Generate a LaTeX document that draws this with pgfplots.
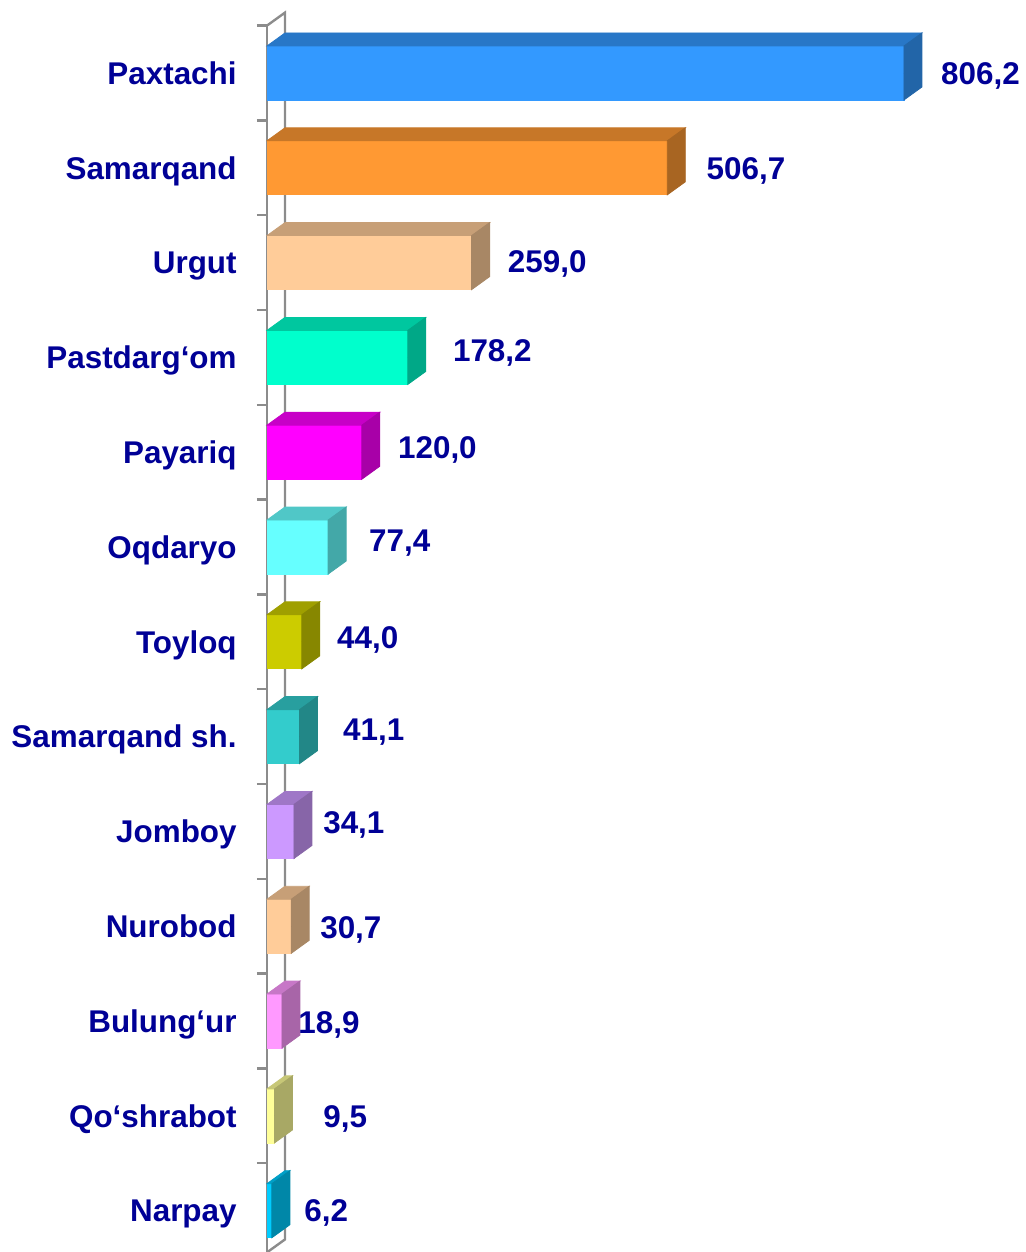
\documentclass[border=0pt]{standalone}
\usepackage{pgfplots}
\pgfplotsset{compat=1.18}
\usepackage{pgfplotstable}
\usepackage{fontspec}
\setmainfont{Liberation Sans}

\definecolor{navytxt}{RGB}{0,0,150}
\definecolor{wall}{RGB}{140,140,140}
\definecolor{c0}{HTML}{3399FF}
\definecolor{c1}{HTML}{FF9933}
\definecolor{c2}{HTML}{FFCC99}
\definecolor{c3}{HTML}{00FFCC}
\definecolor{c4}{HTML}{FF00FF}
\definecolor{c5}{HTML}{66FFFF}
\definecolor{c6}{HTML}{CCCC00}
\definecolor{c7}{HTML}{33CCCC}
\definecolor{c8}{HTML}{CC99FF}
\definecolor{c9}{HTML}{FFCC99}
\definecolor{c10}{HTML}{FF99FF}
\definecolor{c11}{HTML}{FFFF99}
\definecolor{c12}{HTML}{00CCFF}

% value, label position (x in data units, y in category units), label text
\pgfplotstableread{
idx v     lx    ly     lab
0   806.2 852.9 0.00   806,2
1   506.7 556.0 1.01   506,7
2   259.0 304.5 1.99   259,0
3   178.2 235.0 2.93   178,2
4   120.0 165.5 3.95   120,0
5   77.4  128.9 4.93   77,4
6   44.0  88.4  5.95   44,0
7   41.1  96.0  6.92   41,1
8   34.1  70.8  7.90   34,1
9   30.7  67.0  9.01   30,7
10  18.9  39.2  10.01  18,9
11  9.5   70.8  11.00  9,5
12  6.2   46.8  12.00  6,2
}\bars

\newcommand{\lblfont}{\fontsize{15.7}{18}\selectfont\bfseries}

\begin{document}
\begin{tikzpicture}
\begin{axis}[
    name=ax,
    scale only axis,
    width=379pt, height=613.4pt,
    xmin=0, xmax=959.5,
    ymin=-0.5, ymax=12.44,
    y dir=reverse,
    axis x line=none,
    axis y line*=left,
    axis line style={draw=wall, line width=1.2pt},
    ytick={0,...,12},
    yticklabels={Paxtachi, Samarqand, Urgut, Pastdarg‘om, Payariq, Oqdaryo,
        Toyloq, Samarqand sh., Jomboy, Nurobod, Bulung‘ur, Qo‘shrabot, Narpay},
    major tick length=0pt,
    minor ytick={-0.5,0.5,...,11.5},
    minor tick length=5pt,
    tick align=outside,
    ytick pos=left,
    tick style={draw=wall, line width=1.2pt},
    yticklabel style={font=\lblfont, text=navytxt, inner sep=0pt,
        anchor=base east, xshift=-15pt, yshift=-5.6pt},
    clip=false,
]
% back wall of the 3D frame
\draw[wall, line width=1.2pt] (axis description cs:0,1) -- ++(9pt,6.5pt)
    -- ([xshift=9pt,yshift=6.5pt]axis description cs:0,0) -- (axis description cs:0,0);

% 3D bars: front, top and side faces drawn at every data point
\addplot[scatter, only marks, mark=*, mark size=0pt,
    scatter/use mapped color={draw=none, fill=none},
    visualization depends on={rawx \as \rawv},
    visualization depends on={rawy \as \cidx},
    scatter/@pre marker code/.code={%
        \pgfmathtruncatemacro\ci{\cidx}%
        \fill[c\ci] (axis direction cs:-\rawv,-0.285) rectangle (axis direction cs:0,0.285);
        \fill[c\ci!78!black] (axis direction cs:-\rawv,-0.285) -- (axis direction cs:0,-0.285)
            -- ++(9pt,6.5pt) -- ++(axis direction cs:-\rawv,0) -- cycle;
        \fill[c\ci!66!black] (axis direction cs:0,-0.285) -- (axis direction cs:0,0.285)
            -- ++(9pt,6.5pt) -- ++(axis direction cs:0,-0.57) -- cycle;
    },
    scatter/@post marker code/.code={},
] table[x=v, y=idx] {\bars};

% value labels
\addplot[only marks, mark=none, point meta=explicit symbolic,
    nodes near coords,
    nodes near coords style={anchor=base west, inner sep=0pt, yshift=-5.6pt,
        font=\lblfont, text=navytxt},
] table[x=lx, y=ly, meta=lab] {\bars};
\end{axis}
\pgfresetboundingbox
\path (ax.north west) ++(-133.5pt,12.8pt) rectangle ++(512.5pt,-626pt);
\end{tikzpicture}
\end{document}
